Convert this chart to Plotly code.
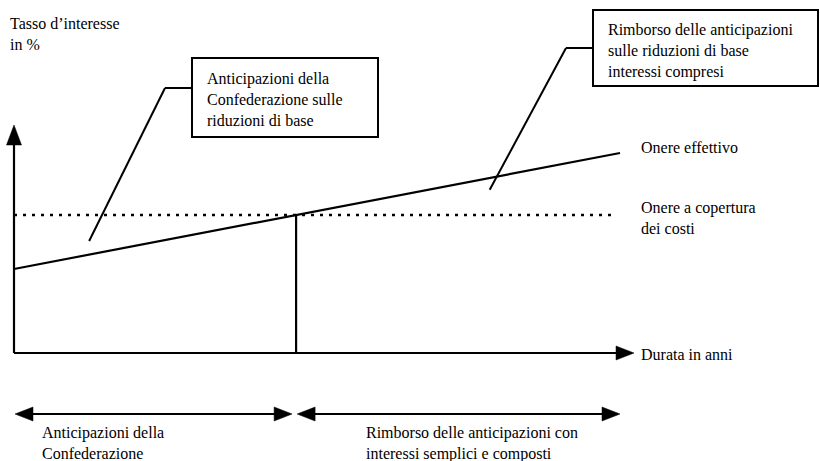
import plotly.graph_objects as go

# ---------------- data (schematic units) ----------------
durata = [0, 10]                 # years (schematic)
onere_effettivo = [2.1, 5.0]     # effective burden, % (schematic)
onere_copertura = [3.45, 3.45]   # cost-covering burden, % (schematic)

# callout anchor points (data units): where the leader lines point
callout1_anchor = (1.24, 2.8)
callout2_anchor = (7.85, 4.08)

ylabel_lines = ["Tasso d\u2019interesse", "in %"]
box1_lines = ["Anticipazioni della", "Confederazione sulle", "riduzioni di base"]
box2_lines = ["Rimborso delle anticipazioni", "sulle riduzioni di base", "interessi compresi"]
right_labels = {"eff": ["Onere effettivo"], "cop": ["Onere a copertura", "dei costi"], "x": ["Durata in anni"]}
bottom_left = ["Anticipazioni della", "Confederazione"]
bottom_right = ["Rimborso delle anticipazioni con", "interessi semplici e composti"]

# ---------------- geometry ----------------
W, H = 820, 461
X0_PX, X_SCALE = 14, 60.6     # pixel of x=0, pixels per year
Y0_PX, Y_SCALE = 353, 40.0    # pixel of y=0, pixels per unit
xr = [-X0_PX / X_SCALE, (W - X0_PX) / X_SCALE]
yr = [(Y0_PX - H) / Y_SCALE, Y0_PX / Y_SCALE]

def dx(px): return px / X_SCALE
def dy(px): return px / Y_SCALE
def X(px): return (px - X0_PX) / X_SCALE
def Y(px): return (Y0_PX - px) / Y_SCALE

slope = (onere_effettivo[1] - onere_effettivo[0]) / (durata[1] - durata[0])
x_cross = durata[0] + (onere_copertura[0] - onere_effettivo[0]) / slope

FONT = dict(family="Liberation Serif", size=16, color="black")
BLACK = "black"

fig = go.Figure()

fig.add_trace(go.Scatter(x=durata, y=onere_effettivo, mode="lines",
                         line=dict(color=BLACK, width=2.2), hoverinfo="skip"))
fig.add_trace(go.Scatter(x=[durata[0], durata[1] - dx(5)], y=onere_copertura, mode="lines",
                         line=dict(color=BLACK, width=2.5, dash="3px,6px"), hoverinfo="skip"))
fig.add_trace(go.Scatter(x=[x_cross, x_cross], y=[0, onere_copertura[0]], mode="lines",
                         line=dict(color=BLACK, width=2.2), hoverinfo="skip"))

shapes = []

def tri(tipx, tipy, direction, L=18, hw=7):
    if direction == "up":
        pts = [(tipx, tipy), (tipx - dx(hw), tipy - dy(L)), (tipx + dx(hw), tipy - dy(L))]
    elif direction == "right":
        pts = [(tipx, tipy), (tipx - dx(L), tipy + dy(hw)), (tipx - dx(L), tipy - dy(hw))]
    else:
        pts = [(tipx, tipy), (tipx + dx(L), tipy + dy(hw)), (tipx + dx(L), tipy - dy(hw))]
    path = "M {} {} L {} {} L {} {} Z".format(*[v for p in pts for v in p])
    return dict(type="path", path=path, xref="x", yref="y", fillcolor=BLACK,
                line=dict(color=BLACK, width=0.5))

def seg(x0, y0, x1, y1, w=2):
    return dict(type="line", x0=x0, y0=y0, x1=x1, y1=y1, xref="x", yref="y",
                line=dict(color=BLACK, width=w))

y_tip = Y(125)
shapes.append(seg(0, 0, 0, y_tip - dy(10), 2.2))
shapes.append(tri(0, y_tip, "up", L=20, hw=7.5))
x_tip = X(634)
shapes.append(seg(0, 0, x_tip - dx(10), 0, 2.2))
shapes.append(tri(x_tip, 0, "right"))

yb = Y(414)
l0, l1 = X(15), x_cross - dx(4)
r0, r1 = x_cross + dx(1), durata[1]
shapes.append(seg(l0 + dx(8), yb, l1 - dx(8), yb, 2))
shapes.append(tri(l0, yb, "left"))
shapes.append(tri(l1, yb, "right"))
shapes.append(seg(r0 + dx(8), yb, r1 - dx(8), yb, 2))
shapes.append(tri(r0, yb, "left"))
shapes.append(tri(r1, yb, "right"))

box1 = dict(x0=X(192), x1=X(378), y0=Y(137), y1=Y(58))
box2 = dict(x0=X(593), x1=X(818), y0=Y(86), y1=Y(10))
for b in (box1, box2):
    shapes.append(dict(type="rect", xref="x", yref="y", fillcolor="rgba(0,0,0,0)",
                       line=dict(color=BLACK, width=2), **b))

e1 = (X(165), Y(88))
shapes.append(seg(callout1_anchor[0], callout1_anchor[1], e1[0], e1[1], 2))
shapes.append(seg(e1[0], e1[1], box1["x0"], e1[1], 2))
e2 = (X(566), Y(48))
shapes.append(seg(callout2_anchor[0], callout2_anchor[1], e2[0], e2[1], 2))
shapes.append(seg(e2[0], e2[1], box2["x0"], e2[1], 2))

annotations = []

def text_block(lines, xpx, ypx_center):
    annotations.append(dict(text="<br>".join(lines), x=X(xpx), y=Y(ypx_center), xref="x", yref="y",
                            xanchor="left", yanchor="middle", align="left", showarrow=False,
                            borderpad=0, font=FONT))

text_block(ylabel_lines, 9, 34)
text_block(box1_lines, 206, 99)
text_block(box2_lines, 607, 51)
text_block(right_labels["eff"], 640, 147)
text_block(right_labels["cop"], 640, 218)
text_block(right_labels["x"], 640, 354)
text_block(bottom_left, 41, 443)
text_block(bottom_right, 365, 443)

fig.update_layout(
    width=W, height=H,
    margin=dict(l=0, r=0, t=0, b=0),
    paper_bgcolor="white", plot_bgcolor="white",
    showlegend=False,
    xaxis=dict(range=xr, visible=False, fixedrange=True),
    yaxis=dict(range=yr, visible=False, fixedrange=True),
    shapes=shapes, annotations=annotations,
)

fig.write_html("out.html", config={"displayModeBar": False},
               post_script="document.body.style.margin='0';document.body.style.padding='0';")
